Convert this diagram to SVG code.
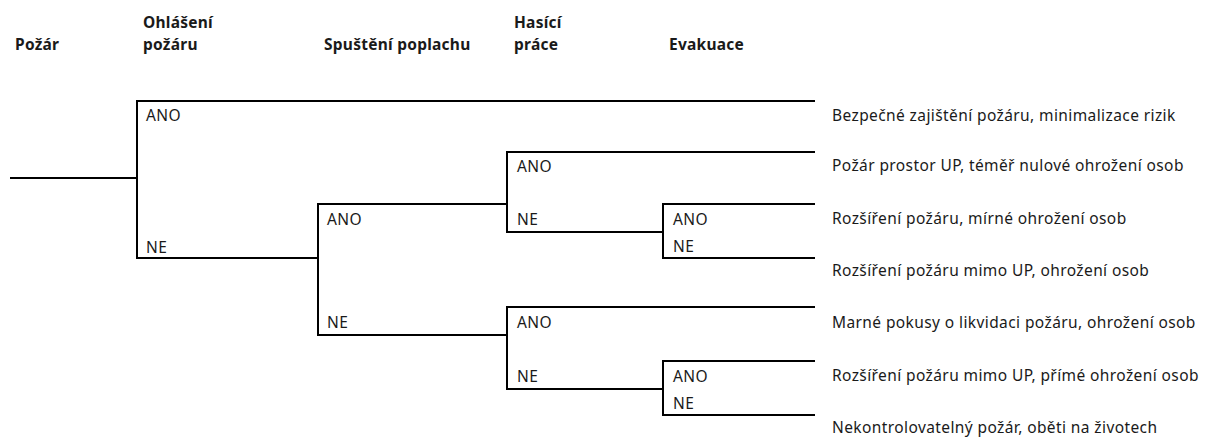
<svg xmlns="http://www.w3.org/2000/svg" width="1212" height="438" viewBox="0 0 1212 438">
  <style>
    .hd { font-family: "Noto Sans", "Liberation Sans", sans-serif; font-size: 15.5px; font-weight: bold; letter-spacing: 0.25px; fill: #1a1a1a; }
    .lb { font-family: "Noto Sans", "Liberation Sans", sans-serif; font-size: 15.5px; letter-spacing: 0.4px; fill: #1a1a1a; }
    .br { fill: none; stroke: #000; stroke-width: 2; }
  </style>
  <rect width="1212" height="438" fill="#fff"/>

  <!-- column headings -->
  <g id="headings">
    <text class="hd" x="15" y="50">Požár</text>
    <text class="hd" x="143" y="28">Ohlášení</text>
    <text class="hd" x="143" y="50">požáru</text>
    <text class="hd" x="324" y="50">Spuštění poplachu</text>
    <text class="hd" x="514" y="28">Hasící</text>
    <text class="hd" x="514" y="50">práce</text>
    <text class="hd" x="669" y="50">Evakuace</text>
  </g>

  <!-- branch lines of the event tree -->
  <g id="connectors">
    <path class="br" d="M10 178 H137"/>
    <path class="br" d="M815 101 H137 V258 H318"/>
    <path class="br" d="M507 204 H318 V335 H507"/>
    <path class="br" d="M815 152 H507 V232 H663"/>
    <path class="br" d="M815 204 H663 V258 H815"/>
    <path class="br" d="M815 307 H507 V389 H663"/>
    <path class="br" d="M815 361 H663 V415 H815"/>
  </g>

  <!-- decision nodes -->
  <g id="node-ohlaseni">
    <text class="lb" x="146" y="121">ANO</text>
    <text class="lb" x="146" y="253">NE</text>
  </g>
  <g id="node-spusteni">
    <text class="lb" x="327" y="225">ANO</text>
    <text class="lb" x="327" y="328">NE</text>
  </g>
  <g id="node-hasici-1">
    <text class="lb" x="517" y="172">ANO</text>
    <text class="lb" x="517" y="225">NE</text>
  </g>
  <g id="node-hasici-2">
    <text class="lb" x="517" y="328">ANO</text>
    <text class="lb" x="517" y="382">NE</text>
  </g>
  <g id="node-evakuace-1">
    <text class="lb" x="673" y="225">ANO</text>
    <text class="lb" x="673" y="252">NE</text>
  </g>
  <g id="node-evakuace-2">
    <text class="lb" x="673" y="382">ANO</text>
    <text class="lb" x="673" y="409">NE</text>
  </g>

  <!-- outcomes -->
  <g id="outcomes">
    <text class="lb" x="832" y="121">Bezpečné zajištění požáru, minimalizace rizik</text>
    <text class="lb" x="832" y="171">Požár prostor UP, téměř nulové ohrožení osob</text>
    <text class="lb" x="832" y="224">Rozšíření požáru, mírné ohrožení osob</text>
    <text class="lb" x="832" y="276">Rozšíření požáru mimo UP, ohrožení osob</text>
    <text class="lb" x="832" y="328">Marné pokusy o likvidaci požáru, ohrožení osob</text>
    <text class="lb" x="832" y="381">Rozšíření požáru mimo UP, přímé ohrožení osob</text>
    <text class="lb" x="832" y="433">Nekontrolovatelný požár, oběti na životech</text>
  </g>
</svg>
